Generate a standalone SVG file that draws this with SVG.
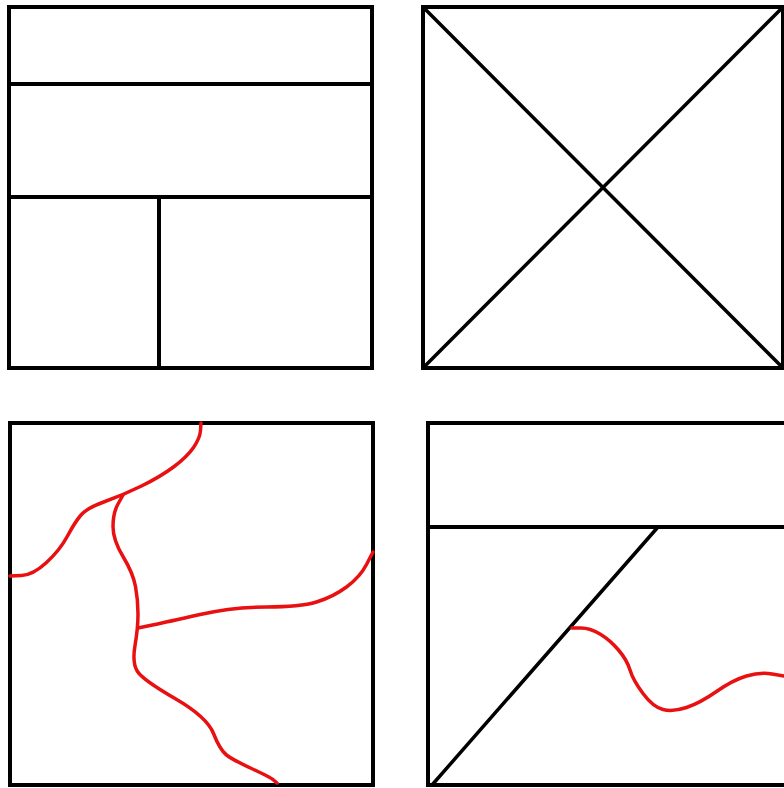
<svg xmlns="http://www.w3.org/2000/svg" width="784" height="788" viewBox="0 0 784 788">
<style>
.k{fill:none;stroke:#000;stroke-width:4;stroke-linecap:square}
.d{fill:none;stroke:#000;stroke-width:3.5;stroke-linecap:round}
.r{fill:none;stroke:#e81010;stroke-width:3.5;stroke-linecap:round;stroke-linejoin:round}
</style>
<rect width="784" height="788" fill="#fff"/>
<g id="panel-top-left">
<rect class="k" x="9" y="7" width="363" height="361"/>
<line class="k" x1="9" y1="84" x2="372" y2="84"/>
<line class="k" x1="9" y1="197" x2="372" y2="197"/>
<line class="k" x1="159" y1="197" x2="159" y2="368"/>
</g>
<g id="panel-top-right">
<rect class="k" x="423" y="7" width="360" height="361"/>
<line class="d" x1="423" y1="7" x2="783" y2="368"/>
<line class="d" x1="423" y1="368" x2="783" y2="7"/>
</g>
<g id="panel-bottom-left">
<rect class="k" x="10" y="423" width="363" height="362"/>
<path class="r" d="M201,423 L200.5,430.5 Q200,438 193.5,447.5 Q187,457 173.5,467 Q160,477 141.5,486 Q123,495 105,501.5 Q87,508 81,515 Q75,522 67.5,536 Q60,550 46.5,562.5 Q33,575 21.5,575.5 L10,576"/>
<path class="r" d="M123,495 L118,504 Q113,513 113,526.5 Q113,540 123,556.5 Q133,573 135.5,586.5 Q138,600 138,614 Q138,628 135,645.5 Q132,663 137.5,671.5 Q143,680 175,698.5 Q207,717 213.5,733.5 Q220,750 226.5,755 Q233,760 251.5,768.5 Q270,777 273.5,780 L277,783"/>
<path class="r" d="M138,628 L152.5,625 Q167,622 200,614.5 Q233,607 266.5,607 Q300,607 316.5,602 Q333,597 346.5,587 Q360,577 366.5,564.5 L373,552"/>
</g>
<g id="panel-bottom-right">
<path class="k" d="M790,423 H428 V785 H790"/>
<line class="k" x1="428" y1="527" x2="790" y2="527"/>
<line class="d" x1="432" y1="785" x2="658" y2="527"/>
<path class="r" d="M572,628 L581,628 Q590,628 600,634 Q610,640 618.5,650 Q627,660 630,670 Q633,680 643,693.5 Q653,707 663,709.5 Q673,712 686.5,707.5 Q700,703 716.5,691.5 Q733,680 746.5,676 Q760,672 772,674 L784,676"/>
</g>
</svg>
